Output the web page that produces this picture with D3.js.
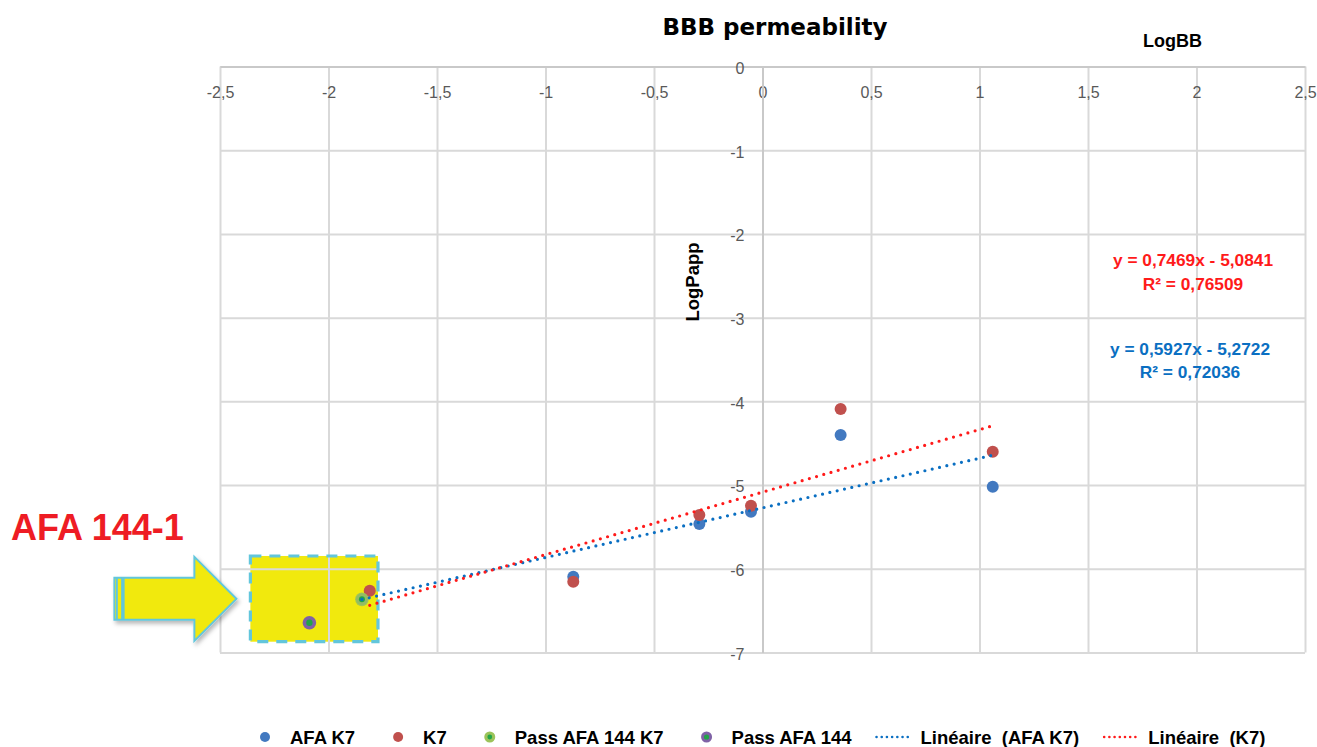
<!DOCTYPE html>
<html><head><meta charset="utf-8">
<script src="https://cdn.jsdelivr.net/npm/d3@7"></script>
<style>body{margin:0;background:#fff}svg{display:block}</style>
</head><body><svg id="c" width="1317" height="747"></svg>
<script>
// ---- data ----
const xTickValues = [-2.5, -2, -1.5, -1, -0.5, 0, 0.5, 1, 1.5, 2, 2.5];
const xTickLabels = ["-2,5", "-2", "-1,5", "-1", "-0,5", "0", "0,5", "1", "1,5", "2", "2,5"];
const yTickValues = [0, -1, -2, -3, -4, -5, -6, -7];
const yTickLabels = ["0", "-1", "-2", "-3", "-4", "-5", "-6", "-7"];

const afaK7X = [-1.846, -0.872, -0.291, -0.053, 0.360, 1.061];
const afaK7Y = [-6.365, -6.095, -5.465, -5.318, -4.402, -5.019];
const k7X = [-1.810, -0.872, -0.291, -0.053, 0.360, 1.061];
const k7Y = [-6.262, -6.154, -5.358, -5.246, -4.091, -4.601];
const passAfa144K7X = [-1.846];
const passAfa144K7Y = [-6.365];
const passAfa144X = [-2.088];
const passAfa144Y = [-6.644];

const trendAfaK7 = {slope: 0.5927, intercept: -5.2722};
const trendK7 = {slope: 0.7469, intercept: -5.0841};

const eqK7 = ["y = 0,7469x - 5,0841", "R² = 0,76509"];
const eqAfaK7 = ["y = 0,5927x - 5,2722", "R² = 0,72036"];

const highlightX = [-2.36, -1.772];
const highlightY = [-5.847, -6.871];

const legendLabels = ["AFA K7", "K7", "Pass AFA 144 K7", "Pass AFA 144", "Linéaire  (AFA K7)", "Linéaire  (K7)"];

// ---- drawing ----
const svg = d3.select("#c");
const x = d3.scaleLinear().domain([-2.5, 2.5]).range([220, 1305]);
const y = d3.scaleLinear().domain([0, -7]).range([66.5, 652.5]);

const C = {blue: "#4279c0", red: "#c0504d", lgreen: "#9cc35a", dgreen: "#22a548",
  purple: "#7f62a6", tBlue: "#0a6fc2", tRed: "#ff1a1a", grid: "#d9d9d9", tick: "#595959",
  yellow: "#f1e90d", cyan: "#62c6dc"};

const defs = svg.append("defs");
const f = defs.append("filter").attr("id", "sh").attr("x", "-20%").attr("y", "-20%").attr("width", "150%").attr("height", "150%");
f.append("feDropShadow").attr("dx", 2).attr("dy", 3).attr("stdDeviation", 2).attr("flood-color", "#000").attr("flood-opacity", 0.28);

// highlight box fill (behind grid)
const bx0 = x(highlightX[0]), bx1 = x(highlightX[1]);
const by0 = y(highlightY[0]), by1 = y(highlightY[1]);
svg.append("rect").attr("x", bx0).attr("y", by0).attr("width", bx1 - bx0).attr("height", by1 - by0)
  .attr("fill", C.yellow);

// grid
const gridV = svg.append("g").attr("transform", `translate(0,${y(-7)})`)
  .call(d3.axisBottom(x).tickValues(xTickValues).tickSize(-(y(-7) - y(0))).tickFormat(""));
const gridH = svg.append("g").attr("transform", `translate(${x(-2.5)},0)`)
  .call(d3.axisLeft(y).tickValues(yTickValues).tickSize(-(x(2.5) - x(-2.5))).tickFormat(""));
[gridV, gridH].forEach(g => {
  g.select(".domain").remove();
  g.selectAll("line").attr("stroke", C.grid).attr("stroke-width", 2);
});

// axes
const xAxis = svg.append("g").attr("transform", `translate(0,${y(0)})`)
  .call(d3.axisBottom(x).tickValues(xTickValues).tickSize(0).tickFormat((d, i) => xTickLabels[i]));
xAxis.select(".domain").attr("stroke", "#c9c9c9").attr("stroke-width", 2);
xAxis.selectAll("text").attr("y", 31).attr("dy", null)
  .attr("font-family", "Liberation Sans, Arial, sans-serif").attr("font-size", 16).attr("fill", C.tick);

const yAxis = svg.append("g").attr("transform", `translate(${x(0)},0)`)
  .call(d3.axisLeft(y).tickValues(yTickValues).tickSize(0).tickPadding(18).tickFormat((d, i) => yTickLabels[i]));
yAxis.select(".domain").attr("stroke", "#c9c9c9").attr("stroke-width", 2);
yAxis.selectAll("text").attr("dy", 6.8)
  .attr("font-family", "Liberation Sans, Arial, sans-serif").attr("font-size", 16).attr("fill", C.tick);

// highlight box border
svg.append("rect").attr("x", bx0).attr("y", by0).attr("width", bx1 - bx0).attr("height", by1 - by0)
  .attr("fill", "none").attr("stroke", C.cyan).attr("stroke-width", 3.2).attr("stroke-dasharray", "11 8");

// markers
function dots(xs, ys, r, fill, op) {
  svg.append("g").selectAll("circle").data(xs).join("circle")
    .attr("cx", d => x(d)).attr("cy", (d, i) => y(ys[i])).attr("r", r).attr("fill", fill).attr("opacity", op || 1);
}
dots(afaK7X, afaK7Y, 6, C.blue);
dots(k7X, k7Y, 6, C.red);
dots(passAfa144K7X, passAfa144K7Y, 6.8, C.lgreen, 0.9);
dots(passAfa144K7X, passAfa144K7Y, 3, C.dgreen);
dots(passAfa144X, passAfa144Y, 6.8, C.purple);
dots(passAfa144X, passAfa144Y, 3.2, C.dgreen);

// trendlines
function trend(xs, t, color) {
  const ext = d3.extent(xs);
  svg.append("path").datum(ext)
    .attr("d", d3.line().x(d => x(d)).y(d => y(t.slope * d + t.intercept)))
    .attr("fill", "none").attr("stroke", color).attr("stroke-width", 3.2)
    .attr("stroke-linecap", "round").attr("stroke-dasharray", "0 7.5");
}
trend(afaK7X, trendAfaK7, C.tBlue);
trend(k7X, trendK7, C.tRed);

// titles
svg.append("text").attr("x", 775).attr("y", 34.5).attr("text-anchor", "middle")
  .attr("font-family", "DejaVu Sans, sans-serif").attr("font-weight", "bold").attr("font-size", 23)
  .attr("fill", "#000").text("BBB permeability");
svg.append("text").attr("x", 1143).attr("y", 47).attr("font-family", "Liberation Sans, Arial, sans-serif")
  .attr("font-weight", "bold").attr("font-size", 18).attr("fill", "#000").text("LogBB");
svg.append("text").attr("transform", "translate(699,282) rotate(-90)").attr("text-anchor", "middle")
  .attr("font-family", "Liberation Sans, Arial, sans-serif").attr("font-weight", "bold").attr("font-size", 18.5)
  .attr("fill", "#000").text("LogPapp");

// equations
function eq(lines, cx, y0, dy, color) {
  lines.forEach((t, i) => svg.append("text").attr("x", cx).attr("y", y0 + i * dy).attr("text-anchor", "middle")
    .attr("font-family", "Liberation Sans, Arial, sans-serif").attr("font-weight", "bold").attr("font-size", 17.3)
    .attr("fill", color).text(t));
}
eq(eqK7, 1193, 265.5, 24, C.tRed);
eq(eqAfaK7, 1190, 354.5, 23, C.tBlue);

// arrow annotation
const cy = (by0 + by1) / 2;
const tip = bx0 - 14, hb = bx0 - 56, sl = bx0 - 136;
const ag = svg.append("g").attr("filter", "url(#sh)");
ag.append("path")
  .attr("d", `M${sl},${cy - 21}L${hb},${cy - 21}L${hb},${cy - 42}L${tip},${cy}L${hb},${cy + 42}L${hb},${cy + 21}L${sl},${cy + 21}Z`)
  .attr("fill", C.yellow).attr("stroke", C.cyan).attr("stroke-width", 2).attr("stroke-linejoin", "miter");
ag.append("line").attr("x1", sl + 2.5).attr("x2", sl + 2.5).attr("y1", cy - 21).attr("y2", cy + 21).attr("stroke", C.cyan).attr("stroke-width", 2);
ag.append("line").attr("x1", sl + 8.5).attr("x2", sl + 8.5).attr("y1", cy - 21).attr("y2", cy + 21).attr("stroke", C.cyan).attr("stroke-width", 3.5);

svg.append("text").attr("x", 11).attr("y", 540).attr("font-family", "Liberation Sans, Arial, sans-serif")
  .attr("font-weight", "bold").attr("font-size", 36).attr("fill", "#ee1c24").text("AFA 144-1");

// legend
const lg = svg.append("g");
const ly = 737;
let cx = 265;
const kinds = ["dot", "dot", "dot", "dot", "line", "line"];
legendLabels.forEach((lab, i) => {
  let textX;
  if (kinds[i] === "dot") {
    if (i === 0) lg.append("circle").attr("cx", cx).attr("cy", ly).attr("r", 5).attr("fill", C.blue);
    if (i === 1) lg.append("circle").attr("cx", cx).attr("cy", ly).attr("r", 5).attr("fill", C.red);
    if (i === 2) {
      lg.append("circle").attr("cx", cx).attr("cy", ly).attr("r", 5.5).attr("fill", C.lgreen);
      lg.append("circle").attr("cx", cx).attr("cy", ly).attr("r", 2.4).attr("fill", C.dgreen);
    }
    if (i === 3) {
      lg.append("circle").attr("cx", cx).attr("cy", ly).attr("r", 5.5).attr("fill", C.purple);
      lg.append("circle").attr("cx", cx).attr("cy", ly).attr("r", 2.6).attr("fill", C.dgreen);
    }
    textX = cx + 25;
  } else {
    lg.append("line").attr("x1", cx + 2).attr("x2", cx + 38).attr("y1", ly).attr("y2", ly)
      .attr("stroke", i === 4 ? C.tBlue : C.tRed).attr("stroke-width", 2.6)
      .attr("stroke-linecap", "round").attr("stroke-dasharray", "0 5.2");
    textX = cx + 46;
  }
  const t = lg.append("text").attr("x", textX).attr("y", ly + 6.8)
    .attr("font-family", "Liberation Sans, Arial, sans-serif").attr("font-weight", "bold").attr("font-size", 18.5)
    .attr("fill", "#000").attr("xml:space", "preserve").style("white-space", "pre").text(lab);
  const w = t.node().getComputedTextLength();
  const next = kinds[i + 1];
  cx = textX + w + (next === "line" ? 23 : 43);
});
</script></body></html>
